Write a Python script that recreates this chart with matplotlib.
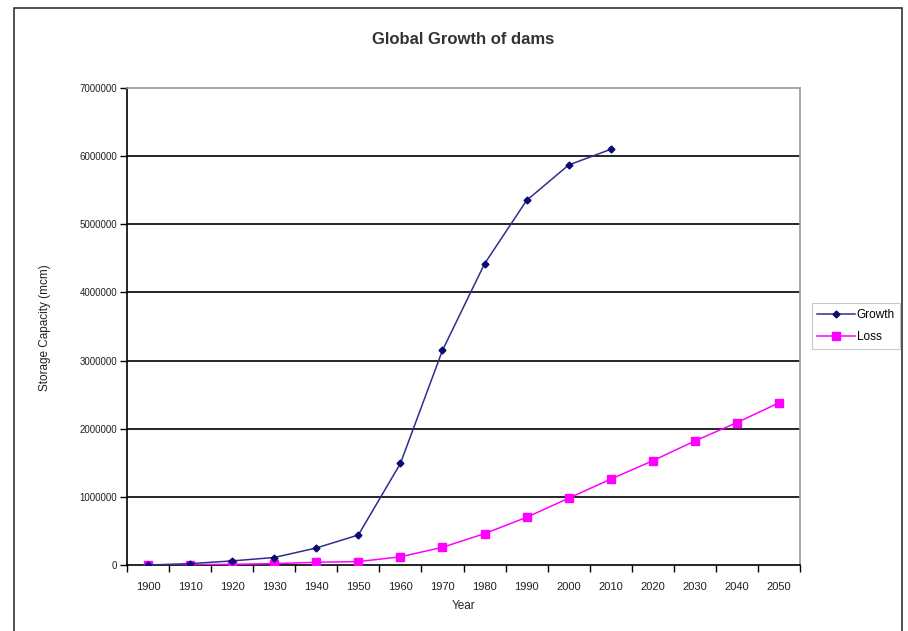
import matplotlib
matplotlib.use("Agg")
import matplotlib.pyplot as plt
from matplotlib.patches import Rectangle
from matplotlib.ticker import FixedLocator, FuncFormatter

plt.rcParams['font.family'] = ['Liberation Sans', 'DejaVu Sans']

years = [1900, 1910, 1920, 1930, 1940, 1950, 1960, 1970, 1980, 1990,
         2000, 2010, 2020, 2030, 2040, 2050]
growth = [0, 20000, 60000, 110000, 250000, 440000, 1490000, 3150000,
          4420000, 5350000, 5870000, 6100000]
loss = [0, 5000, 10000, 20000, 40000, 50000, 120000, 260000, 460000,
        700000, 980000, 1260000, 1530000, 1820000, 2090000, 2380000]
yticks = [0, 1000000, 2000000, 3000000, 4000000, 5000000, 6000000, 7000000]

W, H = 908, 631
fig = plt.figure(figsize=(W / 100, H / 100), dpi=100)

# outer chart border
fig.patches.append(Rectangle((14 / W, -0.05), (902 - 14) / W, 1.05 - 8 / H,
                             transform=fig.transFigure, fill=False,
                             edgecolor='#333333', linewidth=1.2))

ax = fig.add_axes([127 / W, 1 - 565 / H, (800 - 127) / W, (565 - 88) / H])

xg = list(range(len(growth)))
xl = list(range(len(loss)))
ax.plot(xg, growth, color='#2e2e8e', linewidth=1.1, marker='D',
        markersize=3.5, markerfacecolor='#0a0a70', markeredgecolor='#0a0a70',
        label='Growth', zorder=4)
ax.plot(xl, loss, color='#ff00ff', linewidth=1.1, marker='s',
        markersize=5.5, label='Loss', zorder=3)

ax.set_xlim(-0.5, len(years) - 0.5)
ax.set_ylim(0, 7000000)

ax.set_xticks(range(len(years)))
ax.set_xticklabels([str(y) for y in years], fontsize=8, color='#222222')
ax.xaxis.set_minor_locator(FixedLocator([i + 0.5 for i in range(-1, len(years))]))
ax.tick_params(axis='x', which='major', length=0, pad=12)
ax.tick_params(axis='x', which='minor', length=5, width=1, direction='out')

ax.set_yticks(yticks)
ax.yaxis.set_major_formatter(FuncFormatter(lambda v, p: '%d' % v))
ax.tick_params(axis='y', labelsize=7, length=5, width=1, direction='out',
               labelcolor='#222222', pad=2)

for v in yticks[1:-1]:
    ax.axhline(v, color='black', linewidth=1.2, zorder=1)

for s in ['top', 'right']:
    ax.spines[s].set_color('#999999')
    ax.spines[s].set_linewidth(1.2)
for s in ['left', 'bottom']:
    ax.spines[s].set_color('black')
    ax.spines[s].set_linewidth(1.2)

ax.set_xlabel('Year', fontsize=8.5, color='#222222', labelpad=6)
fig.text(45 / W, 1 - 328 / H, 'Storage Capacity (mcm)', rotation=90,
         ha='center', va='center', fontsize=8.5, color='#222222')
fig.text(463 / W, 1 - 40 / H, 'Global Growth of dams', ha='center',
         va='center', fontsize=12, fontweight='bold', color='#333333')

leg = ax.legend(loc='center left', bbox_to_anchor=(812 / W, 1 - 326 / H),
                bbox_transform=fig.transFigure, fontsize=8.5, frameon=True,
                fancybox=False, edgecolor='#bbbbbb', handlelength=3.2,
                handletextpad=0.15, borderpad=0.45, labelspacing=0.9,
                borderaxespad=0)
leg.get_frame().set_linewidth(0.8)

fig.savefig('out.png', dpi=100)
